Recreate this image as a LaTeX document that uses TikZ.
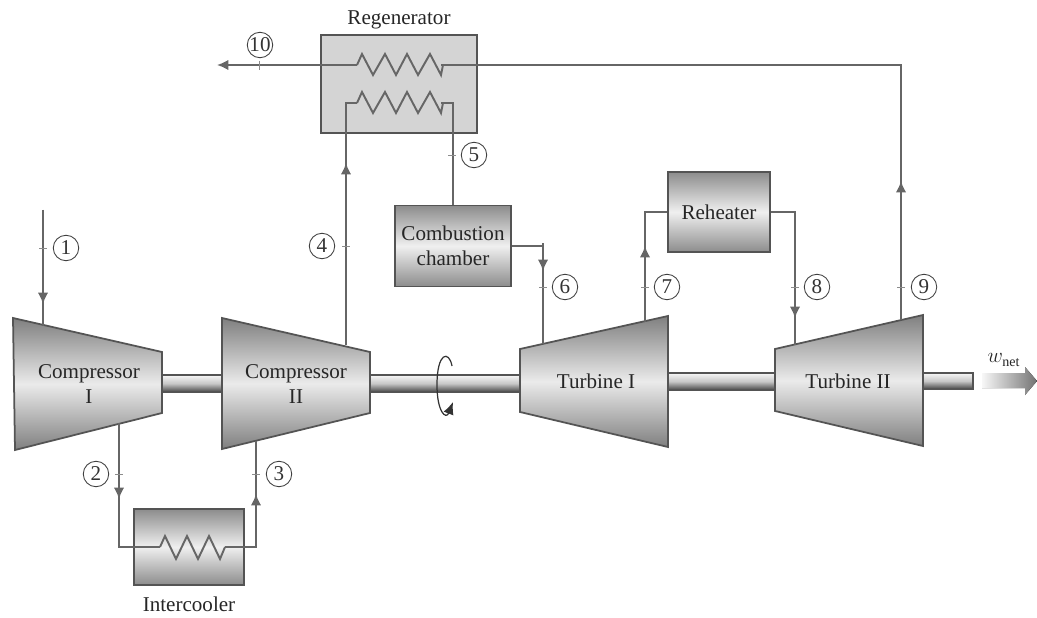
\documentclass[tikz,border=0pt]{standalone}
\usepackage{fontspec}
\setmainfont{Liberation Serif}
\usepackage{tikz}
\usetikzlibrary{arrows.meta,calc,positioning,shapes.geometric}
\definecolor{pipecol}{gray}{0.40}
\definecolor{framecol}{gray}{0.33}
\newcommand{\coil}{-- ++(5,-11) -- ++(11,21) -- ++(12,-21) -- ++(11,21) -- ++(11,-21) -- ++(11,21) -- ++(12,-21) -- ++(11,21) -- ++(2,-10)}
\tikzset{
  pipe/.style={draw=pipecol,line width=1.1pt},
  tip/.style={draw=pipecol,line width=1.1pt,-{Latex[length=6.5pt,width=6pt]},pipecol},
  stub/.style={draw=black!45,line width=0.5pt},
  tag/.style={circle,draw=black!75,line width=0.5pt,minimum size=14.5pt,inner sep=0pt,font=\fontsize{12}{12}\selectfont,text=black!80},
  label text/.style={font=\fontsize{12}{14}\selectfont,text=black!85,align=center},
  machine/.style={draw=framecol,line width=1pt,top color=black!50,bottom color=black!50,middle color=black!8},
  stage/.style={label text,inner sep=0pt},
  boxshade/.style={draw=framecol,line width=1pt,top color=black!45,bottom color=black!45,middle color=black!6,label text,inner sep=0pt},
  shaft/.style={draw=framecol,line width=0.6pt,top color=black!3,bottom color=black!72,middle color=black!22}
}
\begin{document}
\begin{tikzpicture}[x=0.02cm,y=-0.02cm,>=Latex]
  \useasboundingbox (0,0) rectangle (1037,618);
  % shafts
  \draw[shaft] (160,375) rectangle (224,392);
  \draw[shaft] (368,375) rectangle (522,392);
  \draw[shaft] (666,373) rectangle (777,390);
  \draw[shaft] (921,373) rectangle (973,389);
  % machines
  \draw[machine] (13,318) -- (162,352) -- (162,413) -- (15,450) -- cycle;
  \draw[machine] (222,318) -- (370,352) -- (370,413) -- (222,449) -- cycle;
  \draw[machine] (520,349) -- (668,316) -- (668,447) -- (520,412) -- cycle;
  \draw[machine] (775,349) -- (923,315) -- (923,446) -- (775,411) -- cycle;
  \node[stage] (cone) at (89,384) {Compressor\\I};
  \node[stage] (ctwo) at (296,384) {Compressor\\II};
  \node[stage] (tone) at (596,381) {Turbine I};
  \node[stage] (ttwo) at (848,381) {Turbine II};
  % boxes
  \node[draw=framecol,line width=1pt,fill=black!17,minimum width=3.12cm,minimum height=1.96cm] (reg) at (399,84) {};
  \node[label text,above=-0.4pt of reg] (regname) {Regenerator};
  \node[boxshade,minimum width=2.32cm,minimum height=1.62cm] (cc) at (453,246) {Combustion\\chamber};
  \node[boxshade,minimum width=2.04cm,minimum height=1.6cm] (rh) at (719,212) {Reheater};
  \node[boxshade,minimum width=2.2cm,minimum height=1.52cm] (ic) at (189,547) {};
  \node[label text,below=2.6pt of ic] (icname) {Intercooler};
  % pipe ends on the machines
  \coordinate (onein) at (43,326);
  \coordinate (oneout) at (119,423);
  \coordinate (twoin) at (256,441);
  \coordinate (twoout) at (346,345);
  \coordinate (thrin) at (543,344);
  \coordinate (throut) at (645,322);
  \coordinate (fouin) at (795,345);
  \coordinate (fouout) at (901,320);
  \coordinate (feed) at (43,210);
  \coordinate (exhaust) at (217,65);
  \coordinate (rega) at (357,65);
  \coordinate (regb) at (441,65);
  \coordinate (regc) at (357,103);
  \coordinate (regd) at (441,103);
  \coordinate (ica) at (160,547);
  \coordinate (icb) at (225,547);
  % coils
  \draw[pipe] (rega) \coil;
  \draw[pipe] (regc) \coil;
  \draw[pipe] (ica) -- ++(5,-11) -- ++(11,23) -- ++(11,-23) -- ++(11,23) -- ++(11,-23) -- ++(11,23) -- (icb);
  % pipes
  \draw[pipe] (feed) -- (onein);
  \draw[tip] (feed) -- (43,304);
  \draw[pipe] (oneout) |- (ica);
  \draw[tip] (oneout) -- (119,499);
  \draw[pipe] (icb) -| (twoin);
  \draw[tip] (256,520) -- (256,494);
  \draw[pipe] (twoout) |- (regc);
  \draw[tip] (twoout) -- (346,163);
  \draw[pipe] (regd) -| (cc.north);
  \draw[pipe] (cc.east) -| (thrin);
  \draw[tip] (543,243) -- (543,271);
  \draw[pipe] (throut) |- (rh.west);
  \draw[tip] (throut) -- (645,246);
  \draw[pipe] (rh.east) -| (fouin);
  \draw[tip] (795,212) -- (795,318);
  \draw[pipe] (fouout) |- (regb);
  \draw[tip] (fouout) -- (901,181);
  \draw[tip] (rega) -- (exhaust);
  % state numbers
  \node[tag] (s1) at (66,248) {1};
  \node[tag] (s2) at (96,474) {2};
  \node[tag] (s3) at (279,474) {3};
  \node[tag] (s4) at (322,246) {4};
  \node[tag] (s5) at (474,155) {5};
  \node[tag] (s6) at (565,287) {6};
  \node[tag] (s7) at (667,287) {7};
  \node[tag] (s8) at (817,287) {8};
  \node[tag] (s9) at (924,287) {9};
  \node[tag] (s10) at (260,45) {10};
  % small ticks on the pipes
  \foreach \px/\py in {43/248,119/474,256/474,346/246,452/155,543/287,645/287,795/287,901/287}
    \draw[stub] (\px-4,\py) -- (\px+4,\py);
  \draw[stub] (259,61) -- (259,70);
  % rotation of the shaft
  \draw[pipe,line width=0.7pt,-{Latex[length=7pt,width=6pt]},black!80] (452,366) .. controls (449,350) and (437,352) .. (437,385) .. controls (437,412) and (446,420) .. (453,402);
  % net work
  \node[font=\fontsize{12}{14}\selectfont,text=black!85] (wnet) at (1004,360) {$w_{\mathrm{net}}$};
  \fill[left color=black!3,right color=black!55] (982,373) -- (1025,373) -- (1025,367) -- (1037,381) -- (1025,395) -- (1025,388) -- (982,388) -- cycle;
\end{tikzpicture}
\end{document}
